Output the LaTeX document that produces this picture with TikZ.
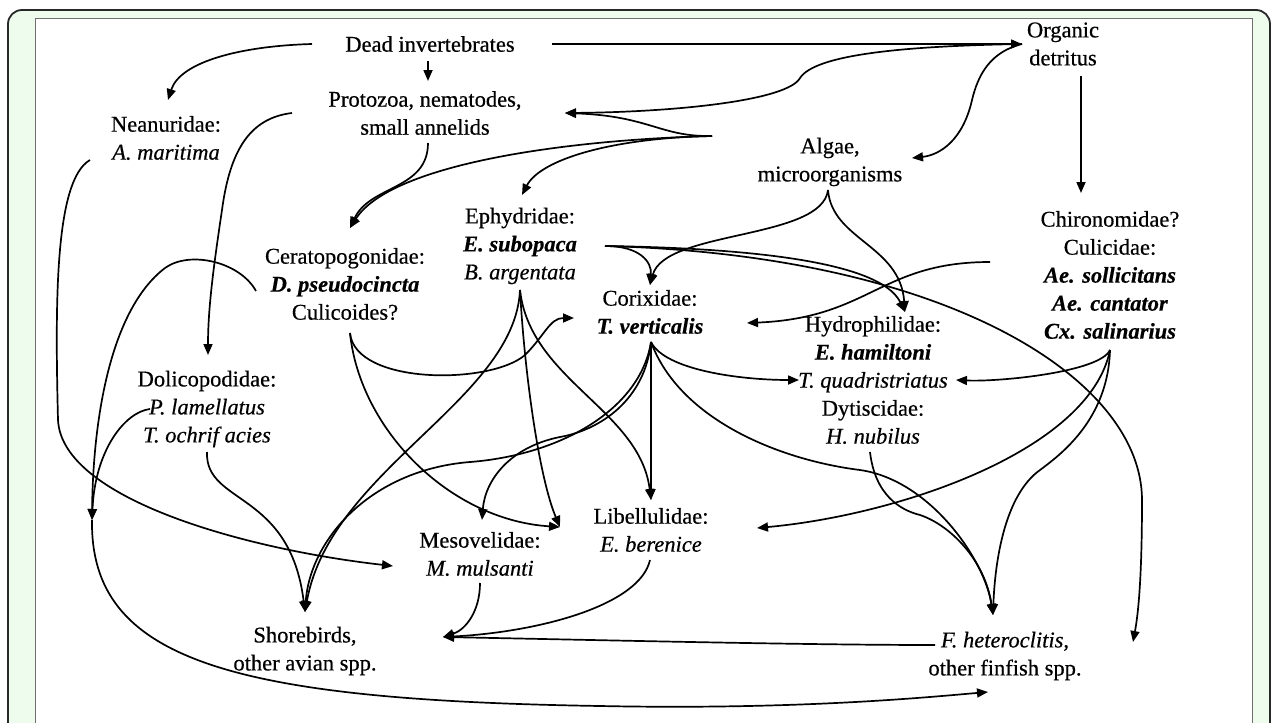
\documentclass[tikz,border=0pt]{standalone}
\usepackage{fontspec}
\setmainfont{Liberation Serif}[FakeBold=0.5]
\usetikzlibrary{arrows.meta}
\definecolor{framegreen}{RGB}{238,252,238}
\definecolor{frameline}{RGB}{40,40,40}
\definecolor{boxline}{RGB}{110,110,110}
\begin{document}
\begin{tikzpicture}[x=1pt,y=-1pt,
  tx/.style={align=center, inner sep=0pt, font=\fontsize{22.5}{28}\selectfont},
  conn/.style={line width=1.7pt, draw=black},
  arr/.style={conn, -{Triangle[length=11pt,width=9pt]}}]
\useasboundingbox (0,0) rectangle (1278,723);
\clip (0,0) rectangle (1278,723);
\draw[fill=framegreen, draw=frameline, line width=1.8pt, rounded corners=14pt] (8,10) rectangle (1270,780);
\draw[fill=white, draw=boxline, line width=1pt] (35,18) rectangle (1252,780);
% nodes
\node[tx] (dead)   at (430,44)  {Dead invertebrates};
\node[tx] (org)    at (1063,44) {Organic\\detritus};
\node[tx] (proto)  at (425,113) {Protozoa, nematodes,\\small annelids};
\node[tx] (nean)   at (166,138) {Neanuridae:\\\textit{A. maritima}};
\node[tx] (algae)  at (830,162) {Algae,\\microorganisms};
\node[tx] (chiro)  at (1110,275) {Chironomidae?\\Culicidae:\\\textbf{\textit{Ae. sollicitans}}\\\textbf{\textit{Ae. cantator}}\\\textbf{\textit{Cx. salinarius}}};
\node[tx] (ephy)   at (520,246) {Ephydridae:\\\textbf{\textit{E. subopaca}}\\\textit{B. argentata}};
\node[tx] (cerato) at (345,284) {Ceratopogonidae:\\\textbf{\textit{D. pseudocincta}}\\Culicoides?};
\node[tx] (corix)  at (650,312) {Corixidae:\\\textbf{\textit{T. verticalis}}};
\node[tx] (hydro)  at (873,380) {Hydrophilidae:\\\textbf{\textit{E. hamiltoni}}\\\textit{T. quadristriatus}\\Dytiscidae:\\\textit{H. nubilus}};
\node[tx] (dolico) at (207,409) {Dolicopodidae:\\\textit{P. lamellatus}\\\textit{T. ochrif acies}};
\node[tx] (lib)    at (651,530) {Libellulidae:\\\textit{E. berenice}};
\node[tx] (meso)   at (480,554) {Mesovelidae:\\\textit{M. mulsanti}};
\node[tx] (shore)  at (305,651) {Shorebirds,\\other avian spp.};
\node[tx] (fh)     at (1005,656) {\textit{F. heteroclitis},\\other finfish spp.};
% ports
\coordinate (deadE) at (552,44);
\coordinate (deadW) at (312,44);
\coordinate (deadS) at (428,61);
\coordinate (orgW) at (1022,44);
\coordinate (orgS) at (1081,76);
\coordinate (protoN) at (428,81);
\coordinate (protoE) at (565,113);
\coordinate (protoW) at (292,113);
\coordinate (protoS) at (428,143);
\coordinate (neanN) at (168,100);
\coordinate (neanW) at (90,160);
\coordinate (algE) at (912,158);
\coordinate (algW) at (712,136);
\coordinate (algS) at (828,190);
\coordinate (ceratoN) at (350,228);
\coordinate (ceratoW) at (256,291);
\coordinate (ceratoS) at (350,333);
\coordinate (ephyN) at (522,195);
\coordinate (ephyE) at (605,246);
\coordinate (ephyS) at (520,290);
\coordinate (chiroN) at (1081,193);
\coordinate (culW) at (990,262);
\coordinate (culS) at (1110,350);
\coordinate (corixN) at (650,285);
\coordinate (corixW) at (574,318);
\coordinate (corixE) at (747,323);
\coordinate (corixS) at (651,342);
\coordinate (hydroN) at (905,312);
\coordinate (tqW) at (799,380);
\coordinate (tqE) at (956,380);
\coordinate (hydroS) at (870,452);
\coordinate (dolicoN) at (208,355);
\coordinate (dolicoW) at (150,409);
\coordinate (dolicoS) at (207,452);
\coordinate (leftArr) at (92,520);
\coordinate (libN) at (651,500);
\coordinate (libW) at (560,527);
\coordinate (libE) at (757,528);
\coordinate (libS) at (650,560);
\coordinate (mesoN) at (482,520);
\coordinate (mesoW) at (393,566);
\coordinate (mesoS) at (480,583);
\coordinate (shoreN) at (305,612);
\coordinate (shoreE) at (443,637);
\coordinate (fhN) at (993,615);
\coordinate (fhE) at (1133,642);
\coordinate (fhW) at (935,645);
\coordinate (fhS) at (988,692);
% connectors
\draw[arr] (deadE) -- (orgW);
\draw[arr] (deadW) .. controls (240,46) and (180,62) .. (neanN);
\draw[arr] (deadS) -- (protoN);
\draw[arr] (orgW) .. controls (900,46) and (815,55) .. (800,78) .. controls (788,100) and (680,112) .. (protoE);
\draw[arr] (orgW) .. controls (990,52) and (978,75) .. (972,100) .. controls (963,140) and (940,155) .. (algE);
\draw[arr] (algW) .. controls (660,137) and (650,116) .. (protoE);
\draw[arr] (algW) .. controls (560,140) and (390,165) .. (ceratoN);
\draw[arr] (algW) .. controls (610,138) and (540,160) .. (ephyN);
\draw[arr] (protoS) .. controls (428,190) and (370,185) .. (ceratoN);
\draw[arr] (orgS) -- (chiroN);
\draw[arr] (algS) .. controls (822,240) and (665,230) .. (corixN);
\draw[arr] (algS) .. controls (832,240) and (900,245) .. (hydroN);
\draw[arr] (ephyE) .. controls (640,246) and (652,262) .. (corixN);
\draw[arr] (ephyE) .. controls (740,248) and (880,260) .. (hydroN);
\draw[arr] (ephyE) .. controls (950,255) and (1142,380) .. (1142,500) .. controls (1142,580) and (1138,615) .. (fhE);
\draw[arr] (culW) .. controls (880,262) and (870,318) .. (corixE);
\draw[arr] (culS) .. controls (1100,372) and (1000,382) .. (tqE);
\draw[arr] (culS) .. controls (1090,450) and (900,515) .. (libE);
\draw[arr] (culS) .. controls (1108,420) and (1060,455) .. (1040,470) .. controls (1005,495) and (995,560) .. (fhN);
\draw[arr] (corixS) .. controls (665,370) and (740,380) .. (tqW);
\draw[arr] (corixS) -- (libN);
\draw[arr] (corixS) .. controls (680,420) and (780,460) .. (860,470) .. controls (930,480) and (985,560) .. (fhN);
\draw[arr] (corixS) .. controls (645,400) and (600,430) .. (560,437) .. controls (510,447) and (485,480) .. (mesoN);
\draw[arr] (corixS) .. controls (640,410) and (560,455) .. (470,462) .. controls (370,470) and (310,540) .. (shoreN);
\draw[arr] (ceratoS) .. controls (355,385) and (490,385) .. (525,355) .. controls (545,335) and (550,318) .. (corixW);
\draw[arr] (ceratoS) .. controls (360,430) and (450,520) .. (libW);
\draw[arr] (ephyS) .. controls (525,380) and (540,480) .. (libW);
\draw[arr] (ephyS) .. controls (515,400) and (330,470) .. (shoreN);
\draw[arr] (ephyS) .. controls (530,380) and (640,410) .. (libN);
\draw[arr] (neanW) .. controls (55,180) and (55,300) .. (58,420) .. controls (62,500) and (250,550) .. (mesoW);
\draw[arr] (protoW) .. controls (250,118) and (230,150) .. (222,210) .. controls (213,270) and (208,310) .. (dolicoN);
\draw[arr] (ceratoW) .. controls (240,262) and (190,250) .. (165,268) .. controls (110,310) and (93,420) .. (leftArr);
\draw[arr] (dolicoW) .. controls (125,412) and (95,450) .. (leftArr);
\draw[arr] (leftArr) .. controls (90,660) and (230,700) .. (600,706) .. controls (800,710) and (930,697) .. (fhS);
\draw[arr] (dolicoS) .. controls (205,505) and (290,490) .. (shoreN);
\draw[arr] (hydroS) .. controls (875,495) and (900,510) .. (920,515) .. controls (950,525) and (985,560) .. (fhN);
\draw[arr] (mesoS) .. controls (480,612) and (465,630) .. (shoreE);
\draw[arr] (libS) .. controls (640,605) and (540,632) .. (shoreE);
\draw[arr] (fhW) .. controls (800,645) and (600,640) .. (shoreE);
\end{tikzpicture}
\end{document}
